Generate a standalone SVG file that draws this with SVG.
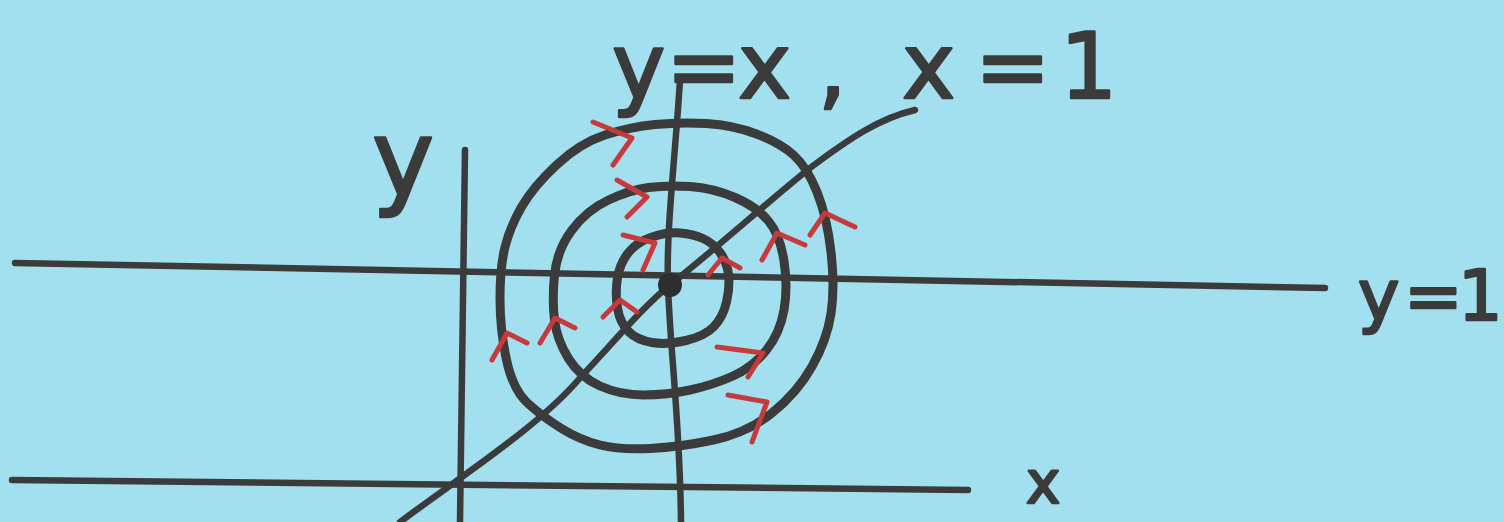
<svg xmlns="http://www.w3.org/2000/svg" width="1504" height="522" viewBox="0 0 1504 522">
<style>
.ink{fill:none;stroke:#3b3b3b;stroke-linecap:round;stroke-linejoin:round}
.axis{stroke-width:6.5}
.ring{stroke-width:9}
.arr{fill:none;stroke:#c63a3c;stroke-width:5;stroke-linecap:round;stroke-linejoin:round}
.lbl{font-family:"DejaVu Sans","Liberation Sans",sans-serif;fill:#3b3b3b;stroke:#3b3b3b;stroke-width:2.5;stroke-linejoin:round}
</style>
<rect width="1504" height="522" fill="#a2e0ef"/>
<g id="axes">
<path class="ink axis" d="M15,263 L1325,288"/>
<path class="ink axis" d="M12,480 L968,490"/>
<path class="ink axis" d="M465,150 L460,522"/>
<path class="ink axis" d="M680,80 C675,160 666,230 668,285 C670,350 680,420 681,522"/>
<path class="ink axis" d="M400,522 C470,470 540,425 580,378 C620,335 645,305 670,285 C720,245 770,200 810,168 C850,138 880,118 915,110"/>
</g>
<g id="orbits">
<path class="ink ring" d="M655,124.5 Q680,122 706.5,123.5 Q733,125 756.5,134 Q780,143 793.5,155 Q807,167 817,192 Q827,217 831,252 Q835,287 831,313.5 Q827,340 812,366.5 Q797,393 772,413 Q747,433 713.5,440 Q680,447 650,448.5 Q620,450 600,445 Q580,440 561.5,428.5 Q543,417 528,403.5 Q513,390 506.5,360 Q500,330 500,298.5 Q500,267 505,247 Q510,227 521.5,207 Q533,187 556.5,165 Q580,143 605,135 Q630,127 655,124.5 Z"/>
<path class="ink ring" d="M648.5,187.5 Q667,185 690,186.5 Q713,188 735,197.5 Q757,207 768.5,221 Q780,235 784,261 Q788,287 784,310 Q780,333 766.5,350 Q753,367 733,376 Q713,385 690,390 Q667,395 643.5,395 Q620,395 600,386 Q580,377 568.5,358.5 Q557,340 554.5,320 Q552,300 554.5,275 Q557,250 572,230 Q587,210 608.5,200 Q630,190 648.5,187.5 Z"/>
<path class="ink ring" d="M652,237 Q667,232 680,233 Q693,234 703,238.5 Q713,243 720,252.5 Q727,262 728.5,274.5 Q730,287 726.5,302 Q723,317 714,326.5 Q705,336 686,340.5 Q667,345 652,342.5 Q637,340 628.5,331.5 Q620,323 617.5,308 Q615,293 617.5,278 Q620,263 628.5,252.5 Q637,242 652,237 Z"/>
</g>
<g id="equilibrium">
<circle cx="670" cy="285" r="12" fill="#2e2e2e"/>
</g>
<g id="arrows">
<polyline class="arr" points="593,122 632,138 613,165"/>
<polyline class="arr" points="617,180 647,197 627,217"/>
<polyline class="arr" points="623,235 655,243 643,270"/>
<polyline class="arr" points="603,317 620,300 637,312"/>
<polyline class="arr" points="540,343 555,318 575,328"/>
<polyline class="arr" points="492,360 507,333 527,343"/>
<polyline class="arr" points="708,275 722,258 740,268"/>
<polyline class="arr" points="762,260 777,233 805,245"/>
<polyline class="arr" points="810,235 825,213 855,227"/>
<polyline class="arr" points="717,347 763,353 748,377"/>
<polyline class="arr" points="728,395 767,402 752,442"/>
</g>
<g id="labels">
<text class="lbl" x="612 666 738 790 818 860 902 975 1060" y="98" font-size="90">y=x , x=1</text>
<text class="lbl" x="1358 1404 1458" y="320" font-size="70">y=1</text>
<text class="lbl" x="372" y="195" font-size="105">y</text>
<text class="lbl" x="1026" y="503" font-size="58">x</text>
</g>
</svg>
